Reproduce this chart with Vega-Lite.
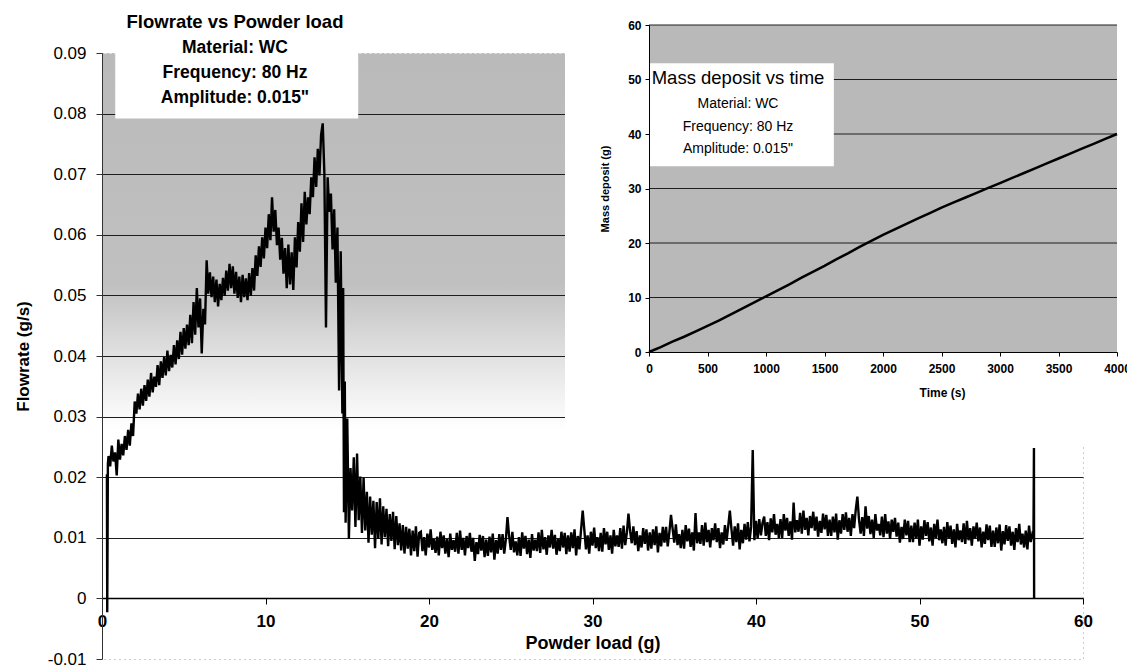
{
"$schema": "https://vega.github.io/schema/vega-lite/v6.json",
"width": 981, "height": 606,
"autosize": {"type": "none"},
"padding": {"left": 102, "top": 53, "right": 44, "bottom": 10},
"background": "white",
"config": {
  "view": {"stroke": "#9a9a9a", "strokeDash": [1, 4], "strokeWidth": 1,
    "fill": {"gradient": "linear", "x1": 0, "y1": 0, "x2": 0, "y2": 1,
      "stops": [{"offset": 0, "color": "#bababa"}, {"offset": 0.38, "color": "#c0c0c0"}, {"offset": 0.47, "color": "#d9d9d9"}, {"offset": 0.55, "color": "#eeeeee"}, {"offset": 0.62, "color": "#ffffff"}, {"offset": 1, "color": "#ffffff"}]}},
  "axis": {"labelFont": "Liberation Sans", "titleFont": "Liberation Sans", "labelColor": "black", "titleColor": "black", "domainColor": "black", "tickColor": "black"},
  "text": {"font": "Liberation Sans", "color": "black"}
},
"title": {"text": "Flowrate vs Powder load", "subtitle": ["Material: WC", "Frequency: 80 Hz", "Amplitude: 0.015\""],
  "anchor": "start", "frame": "group", "align": "center", "dx": 133, "dy": 106, "offset": 0,
  "font": "Liberation Sans", "fontSize": 18.5, "fontWeight": "bold", "color": "black",
  "subtitleFont": "Liberation Sans", "subtitleFontSize": 17.5, "subtitleFontWeight": "bold", "subtitleColor": "black",
  "subtitleLineHeight": 25, "subtitlePadding": 7},
"datasets": {
"flow": [
{"load":0.3,"flow":0.0205},{"load":0.32,"flow":-0.0023},{"load":0.36,"flow":0.0222},
{"load":0.4,"flow":0.0235},{"load":0.5,"flow":0.0218},{"load":0.6,"flow":0.0252},{"load":0.7,"flow":0.0226},{"load":0.8,"flow":0.0241},{"load":0.9,"flow":0.0203},{"load":1.0,"flow":0.0262},{"load":1.1,"flow":0.0229},{"load":1.2,"flow":0.0255},{"load":1.3,"flow":0.0236},
{"load":1.4,"flow":0.0268},{"load":1.5,"flow":0.0245},{"load":1.6,"flow":0.0278},{"load":1.7,"flow":0.0252},{"load":1.8,"flow":0.0289},{"load":1.9,"flow":0.0268},{"load":2.0,"flow":0.0325},{"load":2.1,"flow":0.0305},{"load":2.2,"flow":0.0338},{"load":2.3,"flow":0.0312},
{"load":2.4,"flow":0.0346},{"load":2.5,"flow":0.0318},{"load":2.6,"flow":0.0352},{"load":2.7,"flow":0.0326},{"load":2.8,"flow":0.0361},{"load":2.9,"flow":0.0333},{"load":3.0,"flow":0.0372},{"load":3.1,"flow":0.034},{"load":3.2,"flow":0.0366},{"load":3.3,"flow":0.0349},
{"load":3.4,"flow":0.0385},{"load":3.5,"flow":0.0352},{"load":3.6,"flow":0.0391},{"load":3.7,"flow":0.0364},{"load":3.8,"flow":0.0398},{"load":3.9,"flow":0.0368},{"load":4.0,"flow":0.0409},{"load":4.1,"flow":0.0375},{"load":4.2,"flow":0.0402},{"load":4.3,"flow":0.0381},
{"load":4.4,"flow":0.0418},{"load":4.5,"flow":0.0386},{"load":4.6,"flow":0.0426},{"load":4.7,"flow":0.0395},{"load":4.8,"flow":0.044},{"load":4.9,"flow":0.0402},{"load":5.0,"flow":0.0446},{"load":5.1,"flow":0.0412},{"load":5.2,"flow":0.0452},{"load":5.3,"flow":0.0418},
{"load":5.4,"flow":0.0468},{"load":5.5,"flow":0.0421},{"load":5.6,"flow":0.0489},{"load":5.7,"flow":0.0435},{"load":5.8,"flow":0.0512},{"load":5.9,"flow":0.0447},{"load":6.0,"flow":0.0495},{"load":6.1,"flow":0.0404},{"load":6.2,"flow":0.0478},{"load":6.3,"flow":0.0452},
{"load":6.4,"flow":0.0558},{"load":6.5,"flow":0.0503},{"load":6.6,"flow":0.0538},{"load":6.7,"flow":0.0497},{"load":6.8,"flow":0.0531},{"load":6.9,"flow":0.0489},{"load":7.0,"flow":0.0526},{"load":7.1,"flow":0.0482},{"load":7.2,"flow":0.0519},{"load":7.3,"flow":0.0492},
{"load":7.4,"flow":0.0529},{"load":7.5,"flow":0.0499},{"load":7.6,"flow":0.0541},{"load":7.7,"flow":0.0508},{"load":7.8,"flow":0.0552},{"load":7.9,"flow":0.0512},{"load":8.0,"flow":0.0548},{"load":8.1,"flow":0.0503},{"load":8.2,"flow":0.0539},{"load":8.3,"flow":0.0496},
{"load":8.4,"flow":0.0531},{"load":8.5,"flow":0.0489},{"load":8.6,"flow":0.0534},{"load":8.7,"flow":0.0497},{"load":8.8,"flow":0.0528},{"load":8.9,"flow":0.0492},{"load":9.0,"flow":0.0537},{"load":9.1,"flow":0.0499},{"load":9.2,"flow":0.0545},{"load":9.3,"flow":0.0508},
{"load":9.4,"flow":0.0566},{"load":9.5,"flow":0.0532},{"load":9.6,"flow":0.0581},{"load":9.7,"flow":0.0547},{"load":9.8,"flow":0.0596},{"load":9.9,"flow":0.0561},{"load":10.0,"flow":0.0612},{"load":10.1,"flow":0.0578},{"load":10.2,"flow":0.0634},{"load":10.3,"flow":0.0591},
{"load":10.4,"flow":0.0662},{"load":10.5,"flow":0.0605},{"load":10.6,"flow":0.0641},{"load":10.7,"flow":0.0583},{"load":10.8,"flow":0.0612},{"load":10.9,"flow":0.0559},{"load":11.0,"flow":0.0595},{"load":11.1,"flow":0.0536},{"load":11.2,"flow":0.0578},{"load":11.3,"flow":0.0512},
{"load":11.4,"flow":0.0584},{"load":11.5,"flow":0.0518},{"load":11.6,"flow":0.0571},{"load":11.7,"flow":0.0509},{"load":11.8,"flow":0.0596},{"load":11.9,"flow":0.0546},{"load":12.0,"flow":0.0621},{"load":12.1,"flow":0.0572},{"load":12.2,"flow":0.0652},{"load":12.3,"flow":0.0588},
{"load":12.4,"flow":0.0671},{"load":12.5,"flow":0.0617},{"load":12.6,"flow":0.0662},{"load":12.7,"flow":0.0634},{"load":12.8,"flow":0.0695},{"load":12.9,"flow":0.0662},{"load":13.0,"flow":0.0728},{"load":13.1,"flow":0.0679},{"load":13.2,"flow":0.0742},{"load":13.3,"flow":0.0698},
{"load":13.4,"flow":0.0765},{"load":13.5,"flow":0.0784},{"load":13.6,"flow":0.0702},{"load":13.7,"flow":0.0447},{"load":13.8,"flow":0.0695},{"load":13.9,"flow":0.0638},{"load":14.0,"flow":0.0668},{"load":14.1,"flow":0.0576},{"load":14.2,"flow":0.0642},{"load":14.3,"flow":0.0521},
{"load":14.4,"flow":0.0612},{"load":14.5,"flow":0.0343},{"load":14.6,"flow":0.0573},{"load":14.7,"flow":0.0305},{"load":14.75,"flow":0.0512},{"load":14.8,"flow":0.0142},{"load":14.85,"flow":0.0358},{"load":14.9,"flow":0.0125},{"load":15.0,"flow":0.0297},{"load":15.1,"flow":0.0098},
{"load":15.2,"flow":0.0215},{"load":15.3,"flow":0.0145},{"load":15.4,"flow":0.0233},{"load":15.5,"flow":0.0118},{"load":15.6,"flow":0.0239},{"load":15.7,"flow":0.0129},{"load":15.8,"flow":0.0201},{"load":15.9,"flow":0.0108},{"load":16.0,"flow":0.0199},{"load":16.1,"flow":0.0112},
{"load":16.2,"flow":0.0176},{"load":16.3,"flow":0.0092},{"load":16.4,"flow":0.0168},{"load":16.5,"flow":0.0105},{"load":16.6,"flow":0.0161},{"load":16.7,"flow":0.0083},{"load":16.8,"flow":0.0159},{"load":16.9,"flow":0.0098},{"load":17.0,"flow":0.0165},{"load":17.1,"flow":0.0089},
{"load":17.2,"flow":0.0152},{"load":17.3,"flow":0.0101},{"load":17.4,"flow":0.0148},{"load":17.5,"flow":0.0086},{"load":17.6,"flow":0.0139},{"load":17.7,"flow":0.0095},{"load":17.8,"flow":0.0143},{"load":17.9,"flow":0.0081},{"load":18.0,"flow":0.0136},{"load":18.1,"flow":0.0088},
{"load":18.2,"flow":0.0124},{"load":18.3,"flow":0.0079},{"load":18.4,"flow":0.0121},{"load":18.5,"flow":0.0074},{"load":18.6,"flow":0.0118},{"load":18.7,"flow":0.0082},{"load":18.8,"flow":0.0115},{"load":18.9,"flow":0.0071},{"load":19.0,"flow":0.0112},{"load":19.1,"flow":0.0078},
{"load":19.2,"flow":0.0119},{"load":19.3,"flow":0.0069},{"load":19.4,"flow":0.0108},
{"load":19.5,"flow":0.011},{"load":19.6,"flow":0.0078},{"load":19.7,"flow":0.0101},{"load":19.8,"flow":0.0071},{"load":19.9,"flow":0.0107},{"load":20.0,"flow":0.0084},{"load":20.1,"flow":0.0114},{"load":20.2,"flow":0.008},{"load":20.3,"flow":0.0098},{"load":20.4,"flow":0.0075},
{"load":20.5,"flow":0.0102},{"load":20.6,"flow":0.0071},{"load":20.7,"flow":0.011},{"load":20.8,"flow":0.0083},{"load":20.9,"flow":0.0104},{"load":21.0,"flow":0.0074},{"load":21.1,"flow":0.0098},{"load":21.2,"flow":0.0068},{"load":21.3,"flow":0.0107},{"load":21.4,"flow":0.008},
{"load":21.5,"flow":0.0096},{"load":21.6,"flow":0.0077},{"load":21.7,"flow":0.0108},{"load":21.8,"flow":0.0074},{"load":21.9,"flow":0.0112},{"load":22.0,"flow":0.008},{"load":22.1,"flow":0.01},{"load":22.2,"flow":0.0071},{"load":22.3,"flow":0.0103},{"load":22.4,"flow":0.0083},
{"load":22.5,"flow":0.0108},{"load":22.6,"flow":0.0077},{"load":22.7,"flow":0.01},{"load":22.8,"flow":0.0062},{"load":22.9,"flow":0.0093},{"load":23.0,"flow":0.0073},{"load":23.1,"flow":0.0105},{"load":23.2,"flow":0.0079},{"load":23.3,"flow":0.0103},{"load":23.4,"flow":0.0068},
{"load":23.5,"flow":0.0097},{"load":23.6,"flow":0.007},{"load":23.7,"flow":0.0102},{"load":23.8,"flow":0.0076},{"load":23.9,"flow":0.0107},{"load":24.0,"flow":0.0064},{"load":24.1,"flow":0.0096},{"load":24.2,"flow":0.0074},{"load":24.3,"flow":0.0106},{"load":24.4,"flow":0.008},
{"load":24.5,"flow":0.0106},{"load":24.6,"flow":0.0074},{"load":24.7,"flow":0.0097},{"load":24.8,"flow":0.0134},{"load":24.9,"flow":0.0103},{"load":25.0,"flow":0.008},{"load":25.1,"flow":0.011},{"load":25.2,"flow":0.0076},{"load":25.3,"flow":0.0094},{"load":25.4,"flow":0.0071},
{"load":25.5,"flow":0.0101},{"load":25.6,"flow":0.007},{"load":25.7,"flow":0.0109},{"load":25.8,"flow":0.0082},{"load":25.9,"flow":0.0103},{"load":26.0,"flow":0.0073},{"load":26.1,"flow":0.0097},{"load":26.2,"flow":0.0067},{"load":26.3,"flow":0.0106},{"load":26.4,"flow":0.0079},
{"load":26.5,"flow":0.0097},{"load":26.6,"flow":0.0078},{"load":26.7,"flow":0.0109},{"load":26.8,"flow":0.0075},{"load":26.9,"flow":0.0113},{"load":27.0,"flow":0.0081},{"load":27.1,"flow":0.0101},{"load":27.2,"flow":0.0072},{"load":27.3,"flow":0.0104},{"load":27.4,"flow":0.0084},
{"load":27.5,"flow":0.0113},{"load":27.6,"flow":0.0082},{"load":27.7,"flow":0.0105},{"load":27.8,"flow":0.0072},{"load":27.9,"flow":0.0098},{"load":28.0,"flow":0.0078},{"load":28.1,"flow":0.011},{"load":28.2,"flow":0.0084},{"load":28.3,"flow":0.0108},{"load":28.4,"flow":0.0073},
{"load":28.5,"flow":0.0104},{"load":28.6,"flow":0.0077},{"load":28.7,"flow":0.0109},{"load":28.8,"flow":0.0083},{"load":28.9,"flow":0.0114},{"load":29.0,"flow":0.0071},{"load":29.1,"flow":0.0103},{"load":29.2,"flow":0.0081},{"load":29.3,"flow":0.0113},{"load":29.4,"flow":0.0145},
{"load":29.5,"flow":0.0113},{"load":29.6,"flow":0.0081},{"load":29.7,"flow":0.0104},{"load":29.8,"flow":0.0074},{"load":29.9,"flow":0.011},{"load":30.0,"flow":0.0087},{"load":30.1,"flow":0.0117},{"load":30.2,"flow":0.0083},{"load":30.3,"flow":0.0101},{"load":30.4,"flow":0.0078},
{"load":30.5,"flow":0.0108},{"load":30.6,"flow":0.0077},{"load":30.7,"flow":0.0116},{"load":30.8,"flow":0.0089},{"load":30.9,"flow":0.011},{"load":31.0,"flow":0.008},{"load":31.1,"flow":0.0104},{"load":31.2,"flow":0.0074},{"load":31.3,"flow":0.0113},{"load":31.4,"flow":0.0086},
{"load":31.5,"flow":0.0104},{"load":31.6,"flow":0.0085},{"load":31.7,"flow":0.0116},{"load":31.8,"flow":0.0082},{"load":31.9,"flow":0.012},{"load":32.0,"flow":0.0088},{"load":32.1,"flow":0.0108},{"load":32.2,"flow":0.014},{"load":32.3,"flow":0.0111},{"load":32.4,"flow":0.0091},
{"load":32.5,"flow":0.0119},{"load":32.6,"flow":0.0088},{"load":32.7,"flow":0.0111},{"load":32.8,"flow":0.0078},{"load":32.9,"flow":0.0104},{"load":33.0,"flow":0.0084},{"load":33.1,"flow":0.0116},{"load":33.2,"flow":0.009},{"load":33.3,"flow":0.0114},{"load":33.4,"flow":0.0079},
{"load":33.5,"flow":0.0109},{"load":33.6,"flow":0.0082},{"load":33.7,"flow":0.0114},{"load":33.8,"flow":0.0088},{"load":33.9,"flow":0.0119},{"load":34.0,"flow":0.0076},{"load":34.1,"flow":0.0108},{"load":34.2,"flow":0.0086},{"load":34.3,"flow":0.0118},{"load":34.4,"flow":0.0092},
{"load":34.5,"flow":0.0118},{"load":34.6,"flow":0.0086},{"load":34.7,"flow":0.0109},{"load":34.8,"flow":0.0138},{"load":34.9,"flow":0.0115},{"load":35.0,"flow":0.0092},{"load":35.1,"flow":0.0122},{"load":35.2,"flow":0.0088},{"load":35.3,"flow":0.0106},{"load":35.4,"flow":0.0083},
{"load":35.5,"flow":0.0113},{"load":35.6,"flow":0.0082},{"load":35.7,"flow":0.0121},{"load":35.8,"flow":0.0094},{"load":35.9,"flow":0.0115},{"load":36.0,"flow":0.0085},{"load":36.1,"flow":0.0109},{"load":36.2,"flow":0.0079},{"load":36.3,"flow":0.0141},{"load":36.4,"flow":0.0091},
{"load":36.5,"flow":0.0109},{"load":36.6,"flow":0.009},{"load":36.7,"flow":0.0121},{"load":36.8,"flow":0.0087},{"load":36.9,"flow":0.0125},{"load":37.0,"flow":0.0093},{"load":37.1,"flow":0.0113},{"load":37.2,"flow":0.0084},{"load":37.3,"flow":0.0116},{"load":37.4,"flow":0.0096},
{"load":37.5,"flow":0.0124},{"load":37.6,"flow":0.0093},{"load":37.7,"flow":0.0116},{"load":37.8,"flow":0.0083},{"load":37.9,"flow":0.0109},{"load":38.0,"flow":0.0089},{"load":38.1,"flow":0.0121},{"load":38.2,"flow":0.0095},{"load":38.3,"flow":0.0119},{"load":38.4,"flow":0.0145},
{"load":38.5,"flow":0.0114},{"load":38.6,"flow":0.0087},{"load":38.7,"flow":0.0119},{"load":38.8,"flow":0.0093},{"load":38.9,"flow":0.0124},{"load":39.0,"flow":0.0081},{"load":39.1,"flow":0.0113},{"load":39.2,"flow":0.0091},{"load":39.3,"flow":0.0123},{"load":39.4,"flow":0.0097},
{"load":39.5,"flow":0.0126},{"load":39.6,"flow":0.0094},{"load":39.7,"flow":0.0118},{"load":39.8,"flow":0.0245},{"load":39.9,"flow":0.0096},{"load":40.0,"flow":0.0128},{"load":40.1,"flow":0.0099},{"load":40.2,"flow":0.0131},{"load":40.3,"flow":0.0104},{"load":40.4,"flow":0.0125},
{"load":40.5,"flow":0.0135},{"load":40.6,"flow":0.0103},{"load":40.7,"flow":0.0126},{"load":40.8,"flow":0.0096},{"load":40.9,"flow":0.0132},{"load":41.0,"flow":0.0109},{"load":41.1,"flow":0.0139},{"load":41.2,"flow":0.0105},{"load":41.3,"flow":0.0123},{"load":41.4,"flow":0.01},
{"load":41.5,"flow":0.0131},{"load":41.6,"flow":0.01},{"load":41.7,"flow":0.0139},{"load":41.8,"flow":0.0112},{"load":41.9,"flow":0.0133},{"load":42.0,"flow":0.0103},{"load":42.1,"flow":0.0127},{"load":42.2,"flow":0.0097},{"load":42.3,"flow":0.0158},{"load":42.4,"flow":0.0109},
{"load":42.5,"flow":0.0129},{"load":42.6,"flow":0.011},{"load":42.7,"flow":0.0141},{"load":42.8,"flow":0.0107},{"load":42.9,"flow":0.0145},{"load":43.0,"flow":0.0113},{"load":43.1,"flow":0.0133},{"load":43.2,"flow":0.0104},{"load":43.3,"flow":0.0136},{"load":43.4,"flow":0.0116},
{"load":43.5,"flow":0.0143},{"load":43.6,"flow":0.0112},{"load":43.7,"flow":0.0135},{"load":43.8,"flow":0.0102},{"load":43.9,"flow":0.0128},{"load":44.0,"flow":0.0108},{"load":44.1,"flow":0.014},{"load":44.2,"flow":0.0114},{"load":44.3,"flow":0.0138},{"load":44.4,"flow":0.0103},
{"load":44.5,"flow":0.013},{"load":44.6,"flow":0.0103},{"load":44.7,"flow":0.0135},{"load":44.8,"flow":0.0109},{"load":44.9,"flow":0.014},{"load":45.0,"flow":0.0097},{"load":45.1,"flow":0.0129},{"load":45.2,"flow":0.0107},{"load":45.3,"flow":0.0139},{"load":45.4,"flow":0.0113},
{"load":45.5,"flow":0.0142},{"load":45.6,"flow":0.011},{"load":45.7,"flow":0.0133},{"load":45.8,"flow":0.0103},{"load":45.9,"flow":0.0139},{"load":46.0,"flow":0.0116},{"load":46.1,"flow":0.0146},{"load":46.2,"flow":0.0168},{"load":46.3,"flow":0.013},{"load":46.4,"flow":0.0107},
{"load":46.5,"flow":0.0134},{"load":46.6,"flow":0.0103},{"load":46.7,"flow":0.0152},{"load":46.8,"flow":0.0115},{"load":46.9,"flow":0.0136},{"load":47.0,"flow":0.0106},{"load":47.1,"flow":0.013},{"load":47.2,"flow":0.01},{"load":47.3,"flow":0.0139},{"load":47.4,"flow":0.0112},
{"load":47.5,"flow":0.0123},{"load":47.6,"flow":0.0104},{"load":47.7,"flow":0.0135},{"load":47.8,"flow":0.0101},{"load":47.9,"flow":0.0139},{"load":48.0,"flow":0.0107},{"load":48.1,"flow":0.0127},{"load":48.2,"flow":0.0098},{"load":48.3,"flow":0.013},{"load":48.4,"flow":0.011},
{"load":48.5,"flow":0.0133},{"load":48.6,"flow":0.0102},{"load":48.7,"flow":0.0125},{"load":48.8,"flow":0.0092},{"load":48.9,"flow":0.0118},{"load":49.0,"flow":0.0098},{"load":49.1,"flow":0.013},{"load":49.2,"flow":0.0104},{"load":49.3,"flow":0.0128},{"load":49.4,"flow":0.0093},
{"load":49.5,"flow":0.012},{"load":49.6,"flow":0.0093},{"load":49.7,"flow":0.0125},{"load":49.8,"flow":0.0099},{"load":49.9,"flow":0.013},{"load":50.0,"flow":0.0087},{"load":50.1,"flow":0.0119},{"load":50.2,"flow":0.0097},{"load":50.3,"flow":0.0129},{"load":50.4,"flow":0.0103},
{"load":50.5,"flow":0.0126},{"load":50.6,"flow":0.0094},{"load":50.7,"flow":0.0117},{"load":50.8,"flow":0.0087},{"load":50.9,"flow":0.0123},{"load":51.0,"flow":0.01},{"load":51.1,"flow":0.013},{"load":51.2,"flow":0.0096},{"load":51.3,"flow":0.0114},{"load":51.4,"flow":0.0091},
{"load":51.5,"flow":0.0118},{"load":51.6,"flow":0.0087},{"load":51.7,"flow":0.0126},{"load":51.8,"flow":0.0099},{"load":51.9,"flow":0.012},{"load":52.0,"flow":0.009},{"load":52.1,"flow":0.0114},{"load":52.2,"flow":0.0084},{"load":52.3,"flow":0.0123},{"load":52.4,"flow":0.0096},
{"load":52.5,"flow":0.0112},{"load":52.6,"flow":0.0093},{"load":52.7,"flow":0.0124},{"load":52.8,"flow":0.009},{"load":52.9,"flow":0.0128},{"load":53.0,"flow":0.0096},{"load":53.1,"flow":0.0116},{"load":53.2,"flow":0.0087},{"load":53.3,"flow":0.0119},{"load":53.4,"flow":0.0099},
{"load":53.5,"flow":0.0125},{"load":53.6,"flow":0.0094},{"load":53.7,"flow":0.0117},{"load":53.8,"flow":0.0084},{"load":53.9,"flow":0.011},{"load":54.0,"flow":0.009},{"load":54.1,"flow":0.0122},{"load":54.2,"flow":0.0096},{"load":54.3,"flow":0.012},{"load":54.4,"flow":0.0085},
{"load":54.5,"flow":0.0112},{"load":54.6,"flow":0.0085},{"load":54.7,"flow":0.0117},{"load":54.8,"flow":0.0091},{"load":54.9,"flow":0.0122},{"load":55.0,"flow":0.0079},{"load":55.1,"flow":0.0111},{"load":55.2,"flow":0.0089},{"load":55.3,"flow":0.0121},{"load":55.4,"flow":0.0095},
{"load":55.5,"flow":0.0119},{"load":55.6,"flow":0.0087},{"load":55.7,"flow":0.011},{"load":55.8,"flow":0.008},{"load":55.9,"flow":0.0116},{"load":56.0,"flow":0.0093},{"load":56.1,"flow":0.0123},{"load":56.2,"flow":0.0089},{"load":56.3,"flow":0.0107},{"load":56.4,"flow":0.0084},
{"load":56.5,"flow":0.0112},{"load":56.6,"flow":0.0081},{"load":56.7,"flow":0.012},{"load":56.8,"flow":0.0093},{"load":56.9,"flow":0.0106},{"load":56.97,"flow":0.0102},{"load":57.0,"flow":0.0248},{"load":57.01,"flow":0.0}
],
"mass": [
{"t":0,"m":0},{"t":100,"m":0.9},{"t":200,"m":1.9},{"t":300,"m":2.8},{"t":400,"m":3.8},{"t":500,"m":4.8},{"t":600,"m":5.8},{"t":700,"m":6.9},{"t":800,"m":8.0},{"t":900,"m":9.1},
{"t":1000,"m":10.2},{"t":1100,"m":11.3},{"t":1200,"m":12.4},{"t":1300,"m":13.6},{"t":1400,"m":14.7},{"t":1500,"m":15.8},{"t":1600,"m":17.0},{"t":1700,"m":18.1},{"t":1800,"m":19.3},{"t":1900,"m":20.4},
{"t":2000,"m":21.5},{"t":2100,"m":22.5},{"t":2200,"m":23.5},{"t":2300,"m":24.5},{"t":2400,"m":25.5},{"t":2500,"m":26.5},{"t":2600,"m":27.4},{"t":2700,"m":28.3},{"t":2800,"m":29.2},{"t":2900,"m":30.1},
{"t":3000,"m":31.0},{"t":3100,"m":31.9},{"t":3200,"m":32.8},{"t":3300,"m":33.7},{"t":3400,"m":34.6},{"t":3500,"m":35.5},{"t":3600,"m":36.4},{"t":3700,"m":37.3},{"t":3800,"m":38.2},{"t":3900,"m":39.1},{"t":4000,"m":40.0}
],
"grid": [{"m":10},{"m":20},{"m":30},{"m":40},{"m":50},{"m":60}]
},
"layer": [
  {"data": {"values": [{}]},
   "mark": {"type": "rect", "color": "white"},
   "encoding": {
     "x": {"datum": 0.81, "type": "quantitative", "scale": {"domain": [0, 60], "nice": false, "zero": false}, "axis": null},
     "x2": {"datum": 15.67},
     "y": {"datum": 0.0792, "type": "quantitative", "scale": {"domain": [-0.01, 0.09], "nice": false, "zero": false}, "axis": null},
     "y2": {"datum": 0.0905}}},
  {"data": {"name": "flow"},
   "mark": {"type": "line", "color": "black", "strokeWidth": 2.4},
   "encoding": {
     "x": {"field": "load", "type": "quantitative", "title": "Powder load (g)",
       "scale": {"domain": [0, 60], "nice": false, "zero": false},
       "axis": {"orient": "bottom", "values": [0, 10, 20, 30, 40, 50, 60], "offset": -61, "tickSize": 6, "labelFontSize": 17, "labelFontWeight": "bold", "labelPadding": 9, "labelFlush": false, "titleFontSize": 18, "titleFontWeight": "bold", "titlePadding": 5, "grid": false, "domainWidth": 1.5}},
     "y": {"field": "flow", "type": "quantitative", "title": "Flowrate (g/s)",
       "scale": {"domain": [-0.01, 0.09], "nice": false, "zero": false},
       "axis": {"orient": "left", "values": [-0.01, 0, 0.01, 0.02, 0.03, 0.04, 0.05, 0.06, 0.07, 0.08, 0.09], "tickSize": 6, "labelFontSize": 17, "labelPadding": 10,
         "labelExpr": "abs(datum.value) < 1e-9 ? '0' : (datum.value < 0 ? '-' + format(-datum.value, '.2f') : format(datum.value, '.2f'))",
         "titleFontSize": 17, "titleFontWeight": "bold", "titlePadding": 15,
         "grid": true, "gridColor": "#1e1e1e", "gridWidth": 1,
         "gridOpacity": {"condition": {"test": "datum.value > 0.085 || datum.value < 0.005", "value": 0}, "value": 1},
         "domainColor": "#333", "tickColor": "#333"}}}},
  {"data": {"values": [{}]},
   "mark": {"type": "rect", "color": "white"},
   "encoding": {
     "x": {"datum": -718, "type": "quantitative", "scale": {"domain": [0, 4000], "range": [547, 1015], "nice": false, "zero": false}, "axis": null},
     "x2": {"datum": 4400},
     "y": {"datum": -17, "type": "quantitative", "scale": {"domain": [0, 60], "range": [299, -28], "nice": false, "zero": false}, "axis": null},
     "y2": {"datum": 64.5}}},
  {"data": {"values": [{}]},
   "mark": {"type": "rect", "color": "#b9b9b9"},
   "encoding": {
     "x": {"datum": 0, "type": "quantitative", "scale": {"domain": [0, 4000], "range": [547, 1015], "nice": false, "zero": false}, "axis": null},
     "x2": {"datum": 4000},
     "y": {"datum": 0, "type": "quantitative", "scale": {"domain": [0, 60], "range": [299, -28], "nice": false, "zero": false}, "axis": null},
     "y2": {"datum": 60}}},
  {"data": {"name": "grid"},
   "mark": {"type": "rule", "color": "#1e1e1e", "strokeWidth": 1},
   "encoding": {
     "x": {"datum": 0, "type": "quantitative", "scale": {"domain": [0, 4000], "range": [547, 1015], "nice": false, "zero": false}, "axis": null},
     "x2": {"datum": 4000},
     "y": {"field": "m", "type": "quantitative", "scale": {"domain": [0, 60], "range": [299, -28], "nice": false, "zero": false}, "axis": null}}},
  {"data": {"values": [{}]},
   "mark": {"type": "rect", "color": "white"},
   "encoding": {
     "x": {"datum": -8, "type": "quantitative", "scale": {"domain": [0, 4000], "range": [547, 1015], "nice": false, "zero": false}, "axis": null},
     "x2": {"datum": 1580},
     "y": {"datum": 34.1, "type": "quantitative", "scale": {"domain": [0, 60], "range": [299, -28], "nice": false, "zero": false}, "axis": null},
     "y2": {"datum": 53.0}}},
  {"data": {"values": [{}]},
   "mark": {"type": "text", "text": "Mass deposit vs time", "fontSize": 18.5, "align": "center", "baseline": "middle"},
   "encoding": {
     "x": {"datum": 761, "type": "quantitative", "scale": {"domain": [0, 4000], "range": [547, 1015], "nice": false, "zero": false}, "axis": null},
     "y": {"datum": 50.3, "type": "quantitative", "scale": {"domain": [0, 60], "range": [299, -28], "nice": false, "zero": false}, "axis": null}}},
  {"data": {"values": [{}]},
   "mark": {"type": "text", "text": ["Material: WC", "Frequency: 80 Hz", "Amplitude: 0.015\""], "fontSize": 14, "lineHeight": 22.5, "align": "center", "baseline": "middle"},
   "encoding": {
     "x": {"datum": 761, "type": "quantitative", "scale": {"domain": [0, 4000], "range": [547, 1015], "nice": false, "zero": false}, "axis": null},
     "y": {"datum": 45.5, "type": "quantitative", "scale": {"domain": [0, 60], "range": [299, -28], "nice": false, "zero": false}, "axis": null}}},
  {"data": {"name": "mass"},
   "mark": {"type": "line", "color": "black", "strokeWidth": 2.5},
   "encoding": {
     "x": {"field": "t", "type": "quantitative", "title": "Time (s)",
       "scale": {"domain": [0, 4000], "range": [547, 1015], "nice": false, "zero": false},
       "axis": {"values": [0, 500, 1000, 1500, 2000, 2500, 3000, 3500, 4000], "format": "d", "orient": "bottom", "offset": -307, "zindex": 1, "tickSize": 4, "labelFontSize": 12, "labelFontWeight": "bold", "labelPadding": 7, "labelFlush": false, "titleFontSize": 12, "titleFontWeight": "bold", "titlePadding": 13, "titleX": 840, "grid": false}},
     "y": {"field": "m", "type": "quantitative", "title": "Mass deposit (g)",
       "scale": {"domain": [0, 60], "range": [299, -28], "nice": false, "zero": false},
       "axis": {"values": [0, 10, 20, 30, 40, 50, 60], "orient": "left", "offset": -547, "zindex": 1, "tickSize": 4, "labelFontSize": 12, "labelFontWeight": "bold", "labelPadding": 4, "titleFontSize": 11, "titleFontWeight": "bold", "titlePadding": 17, "grid": false}}}}
],
"resolve": {"scale": {"x": "independent", "y": "independent"}, "axis": {"x": "independent", "y": "independent"}}
}
